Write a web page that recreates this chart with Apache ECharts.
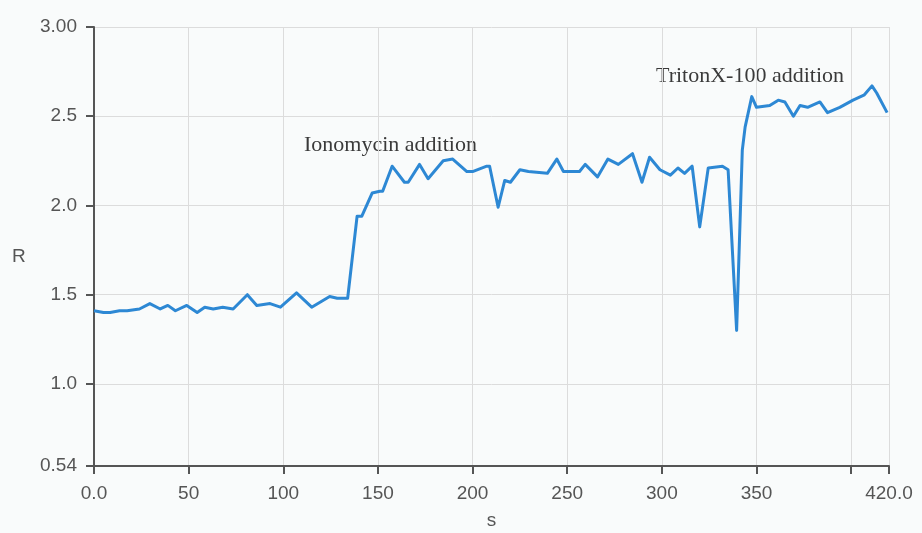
<!DOCTYPE html>
<html>
<head>
<meta charset="utf-8">
<script src="https://cdn.jsdelivr.net/npm/echarts@6/dist/echarts.min.js"></script>
<style>
html,body{margin:0;padding:0;background:#f9fbfb;}
#c{width:922px;height:533px;}
</style>
</head>
<body>
<div id="c"></div>
<script>
// time (s)
var times = [0, 5, 8.5, 13.5, 17.5, 24, 29.5, 35, 39, 43, 49, 54.5, 58.5, 63, 68, 73.5, 81, 86, 93, 98.5,
  107, 115, 124.5, 128.5, 134, 139, 141.5, 147, 151, 152.5, 157.5, 164, 166, 172, 176.5, 184.5, 189.5, 197, 200, 207.5,
  209, 213.5, 217, 220, 225, 229.5, 239.5, 244.5, 248, 256.5, 259.5, 266, 271.5, 277, 284.5, 289.5, 293.5, 299, 304.5, 308.5,
  312, 316, 320, 324.5, 332, 335, 339.5, 342.5, 344, 347.5, 350, 357, 361.5, 365, 369.5, 373, 377, 383.5, 387.5, 394,
  401, 407, 411, 413.5, 419];
// ratio R
var ratios = [1.41, 1.40, 1.40, 1.41, 1.41, 1.42, 1.45, 1.42, 1.44, 1.41, 1.44, 1.40, 1.43, 1.42, 1.43, 1.42, 1.50, 1.44, 1.45, 1.43,
  1.51, 1.43, 1.49, 1.48, 1.48, 1.94, 1.94, 2.07, 2.08, 2.08, 2.22, 2.13, 2.13, 2.23, 2.15, 2.25, 2.26, 2.19, 2.19, 2.22,
  2.22, 1.99, 2.14, 2.13, 2.20, 2.19, 2.18, 2.26, 2.19, 2.19, 2.23, 2.16, 2.26, 2.23, 2.29, 2.13, 2.27, 2.20, 2.17, 2.21,
  2.18, 2.22, 1.88, 2.21, 2.22, 2.20, 1.30, 2.31, 2.44, 2.61, 2.55, 2.56, 2.59, 2.58, 2.50, 2.56, 2.55, 2.58, 2.52, 2.55,
  2.59, 2.62, 2.67, 2.63, 2.52];
var xTicks = [0, 50, 100, 150, 200, 250, 300, 350, 400, 420];
var xLabels = [0, 50, 100, 150, 200, 250, 300, 350, 420];
var yTicks = [0.54, 1.0, 1.5, 2.0, 2.5, 3.0];
var yLabelText = {'0.54': '0.54', '1': '1.0', '1.5': '1.5', '2': '2.0', '2.5': '2.5', '3': '3.00'};
var xLabelText = {'0': '0.0', '420': '420.0'};
var notes = [
  {text: 'Ionomycin addition', left: 304, top: 134},
  {text: 'TritonX-100 addition', left: 656, top: 65}
];

var data = times.map(function (t, i) { return [t, ratios[i]]; });

var chart = echarts.init(document.getElementById('c'), null, {renderer: 'canvas'});
var axisColor = '#555';
var textColor = '#555';
chart.setOption({
  backgroundColor: '#f9fbfb',
  animation: false,
  grid: {left: 94, top: 27, right: 33, bottom: 67, outerBoundsMode: 'none', containLabel: false},
  xAxis: {
    type: 'value', min: 0, max: 420,
    name: 's', nameLocation: 'middle', nameGap: 45,
    nameTextStyle: {color: textColor, fontSize: 19, fontFamily: 'Liberation Sans, Arial, sans-serif'},
    axisLine: {lineStyle: {color: axisColor, width: 2}},
    axisTick: {show: true, length: 8, customValues: xTicks, lineStyle: {color: axisColor, width: 2}},
    axisLabel: {customValues: xLabels, margin: 18, color: textColor, fontSize: 19,
      fontFamily: 'Liberation Sans, Arial, sans-serif',
      formatter: function (v) { return xLabelText[String(v)] || String(v); }},
    splitLine: {show: true, lineStyle: {color: '#dcdcdc', width: 1}}
  },
  yAxis: {
    type: 'value', min: 0.54, max: 3.0,
    axisLine: {show: true, lineStyle: {color: axisColor, width: 2}},
    axisTick: {show: true, length: 8, customValues: yTicks, lineStyle: {color: axisColor, width: 2}},
    axisLabel: {customValues: yTicks, margin: 17, color: textColor, fontSize: 19,
      fontFamily: 'Liberation Sans, Arial, sans-serif',
      formatter: function (v) { return yLabelText[String(+v.toFixed(2))] || String(v); }},
    splitLine: {show: true, lineStyle: {color: '#dcdcdc', width: 1}}
  },
  graphic: [
    {type: 'text', left: 12, top: 247, style: {text: 'R', fill: textColor, fontSize: 19, fontFamily: 'Liberation Sans, Arial, sans-serif'}}
  ].concat(notes.map(function (n) {
    return {type: 'text', left: n.left, top: n.top, style: {text: n.text, fill: '#3a3a3a', fontSize: 22, fontFamily: 'Liberation Serif, Times New Roman, serif'}};
  })),
  series: [{
    type: 'line',
    data: data,
    showSymbol: false,
    lineStyle: {color: '#2d88d4', width: 3, join: 'round'},
    clip: false
  }]
});
</script>
</body>
</html>
